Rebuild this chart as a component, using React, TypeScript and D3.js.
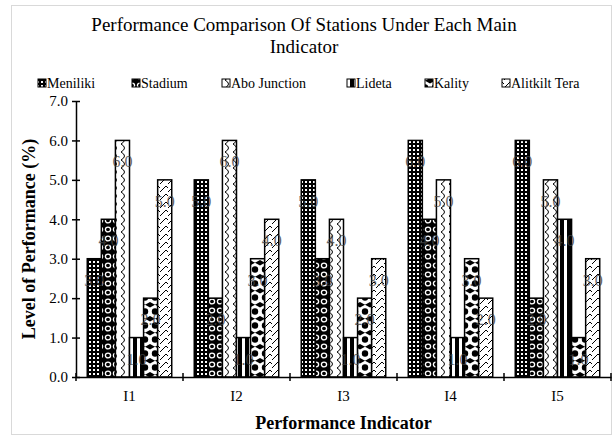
import { useEffect, useRef } from "react";
import * as d3 from "d3";

const indicators = ["I1", "I2", "I3", "I4", "I5"];
const stations = ["Meniliki", "Stadium", "Abo Junction", "Lideta", "Kality", "Alitkilt Tera"];
const meniliki = [3, 5, 5, 6, 6];
const stadium = [4, 2, 3, 4, 2];
const aboJunction = [6, 6, 4, 5, 5];
const lideta = [1, 1, 1, 1, 4];
const kality = [2, 3, 2, 3, 1];
const alitkiltTera = [5, 4, 3, 2, 3];
const yTicks = [0, 1, 2, 3, 4, 5, 6, 7];

const seriesValues = [meniliki, stadium, aboJunction, lideta, kality, alitkiltTera];
const patternIds = ["p-men", "p-sta", "p-abo", "p-lid", "p-kal", "p-ali"];
const legendX = [38, 132, 222, 347, 425, 502];

function App() {
  const svgRef = useRef(null);

  useEffect(() => {
    const width = 613;
    const height = 439;
    const margin = { top: 101, right: 2, bottom: 62, left: 76 };

    const svg = d3.select(svgRef.current);
    svg.selectAll("*").remove();

    // fill patterns, roughly like the Excel ones
    const defs = svg.append("defs");
    const pat = (id, w, h) =>
      defs
        .append("pattern")
        .attr("id", id)
        .attr("patternUnits", "userSpaceOnUse")
        .attr("width", w)
        .attr("height", h);

    const men = pat("p-men", 4, 4);
    men.append("rect").attr("width", 4).attr("height", 4).attr("fill", "#000");
    men.append("rect").attr("x", 1).attr("y", 1).attr("width", 2).attr("height", 2).attr("fill", "#fff");

    const sta = pat("p-sta", 8, 9);
    sta.append("rect").attr("width", 8).attr("height", 9).attr("fill", "#000");
    sta
      .append("ellipse")
      .attr("cx", 4)
      .attr("cy", 4.5)
      .attr("rx", 2.6)
      .attr("ry", 2.4)
      .attr("fill", "none")
      .attr("stroke", "#fff")
      .attr("stroke-width", 1.3);

    const abo = pat("p-abo", 8, 8);
    abo.append("rect").attr("width", 8).attr("height", 8).attr("fill", "#fff");
    abo
      .append("path")
      .attr("d", "M1,0 Q8,4 1,8")
      .attr("fill", "none")
      .attr("stroke", "#000")
      .attr("stroke-width", 1);

    const lid = pat("p-lid", 7, 4);
    lid.append("rect").attr("width", 7).attr("height", 4).attr("fill", "#fff");
    lid.append("rect").attr("width", 4).attr("height", 4).attr("fill", "#000");

    const kal = pat("p-kal", 10, 14);
    kal.append("rect").attr("width", 10).attr("height", 14).attr("fill", "#fff");
    kal.append("circle").attr("cx", 5).attr("cy", 3.5).attr("r", 3.2).attr("fill", "#000");
    kal.append("path").attr("d", "M0,8 L10,13.5 L10,8 L0,13.5 Z").attr("fill", "#000");

    const ali = pat("p-ali", 8, 8);
    ali.append("rect").attr("width", 8).attr("height", 8).attr("fill", "#fff");
    ali
      .append("path")
      .attr("d", "M0,8 L6,2 L8,4")
      .attr("fill", "none")
      .attr("stroke", "#000")
      .attr("stroke-width", 1);

    // chart frame
    svg
      .append("rect")
      .attr("x", 11.5)
      .attr("y", 5.5)
      .attr("width", 600)
      .attr("height", 429)
      .attr("fill", "#fff")
      .attr("stroke", "#d9d9d9");

    const x0 = d3
      .scaleBand()
      .domain(indicators)
      .range([margin.left, width - margin.right])
      .padding(0);

    const x1 = d3
      .scaleBand()
      .domain(stations)
      .range([0, x0.bandwidth()])
      .paddingInner(0)
      .paddingOuter(0.8);

    const y = d3
      .scaleLinear()
      .domain([0, 7])
      .range([height - margin.bottom, margin.top]);

    // title
    const title = svg
      .append("text")
      .attr("text-anchor", "middle")
      .style("font-family", "Liberation Serif, Times New Roman, serif")
      .style("font-size", "19px");
    title.append("tspan").attr("x", 304).attr("y", 31).text("Performance Comparison Of Stations Under Each Main");
    title.append("tspan").attr("x", 304).attr("y", 53).text("Indicator");

    // legend
    const legend = svg.append("g").style("font-family", "Liberation Serif, Times New Roman, serif");
    stations.forEach((s, i) => {
      legend
        .append("rect")
        .attr("x", legendX[i])
        .attr("y", 79)
        .attr("width", 8)
        .attr("height", 8)
        .attr("fill", `url(#${patternIds[i]})`)
        .attr("stroke", "#000")
        .attr("stroke-width", 1);
      legend
        .append("text")
        .attr("x", legendX[i] + 9)
        .attr("y", 88)
        .style("font-size", "14px")
        .text(s);
    });

    // bars
    seriesValues.forEach((vals, si) => {
      const g = svg.append("g");
      g.selectAll("rect")
        .data(vals)
        .enter()
        .append("rect")
        .attr("x", (d, i) => x0(indicators[i]) + x1(stations[si]))
        .attr("y", (d) => y(d))
        .attr("width", x1.bandwidth())
        .attr("height", (d) => y(0) - y(d))
        .attr("fill", `url(#${patternIds[si]})`)
        .attr("stroke", "#000")
        .attr("stroke-width", 1.5);
    });

    // data labels
    seriesValues.forEach((vals, si) => {
      svg
        .append("g")
        .selectAll("text")
        .data(vals)
        .enter()
        .append("text")
        .attr("x", (d, i) => x0(indicators[i]) + x1(stations[si]) + x1.bandwidth() / 2)
        .attr("y", (d) => y(d) + 27)
        .attr("text-anchor", "middle")
        .style("font-family", "Liberation Serif, Times New Roman, serif")
        .style("font-size", "16px")
        .attr("fill", "#404040")
        .attr("opacity", 0.8)
        .text((d) => d3.format(".1f")(d));
    });

    // axes
    const yAxis = svg
      .append("g")
      .attr("transform", `translate(${margin.left},0)`)
      .call(
        d3
          .axisLeft(y)
          .tickValues(yTicks)
          .tickFormat(d3.format(".1f"))
          .tickSizeInner(4)
          .tickSizeOuter(0)
      );
    yAxis.select(".domain").attr("stroke-width", 1.5);
    yAxis.selectAll(".tick line").attr("x1", -4).attr("x2", 4).attr("stroke-width", 1.5);
    yAxis
      .selectAll(".tick text")
      .attr("x", -8)
      .style("font-family", "Liberation Serif, Times New Roman, serif")
      .style("font-size", "15px");

    const xAxis = svg
      .append("g")
      .attr("transform", `translate(0,${y(0)})`)
      .call(d3.axisBottom(x0).tickSize(0).tickSizeOuter(0).tickPadding(13));
    xAxis.select(".domain").attr("stroke-width", 1.5);
    xAxis
      .selectAll(".tick text")
      .style("font-family", "Liberation Serif, Times New Roman, serif")
      .style("font-size", "15px");
    // category boundary ticks
    xAxis
      .selectAll(".sep")
      .data(indicators.concat([""]))
      .enter()
      .append("line")
      .attr("class", "sep")
      .attr("x1", (d, i) => margin.left + i * x0.step())
      .attr("x2", (d, i) => margin.left + i * x0.step())
      .attr("y1", -4)
      .attr("y2", 4)
      .attr("stroke", "#000")
      .attr("stroke-width", 1.5);

    // axis titles
    svg
      .append("text")
      .attr("x", (margin.left + width - margin.right) / 2)
      .attr("y", 429)
      .attr("text-anchor", "middle")
      .style("font-family", "Liberation Serif, Times New Roman, serif")
      .style("font-size", "18px")
      .style("font-weight", "bold")
      .text("Performance Indicator");

    svg
      .append("text")
      .attr("transform", `translate(35,${(y(0) + y(7)) / 2}) rotate(-90)`)
      .attr("text-anchor", "middle")
      .style("font-family", "Liberation Serif, Times New Roman, serif")
      .style("font-size", "18px")
      .style("font-weight", "bold")
      .text("Level of Performance (%)");
  }, []);

  return (
    <svg
      ref={svgRef}
      width={613}
      height={439}
      style={{ position: "absolute", left: 0, top: 0, background: "#fff" }}
    ></svg>
  );
}

export default App;
